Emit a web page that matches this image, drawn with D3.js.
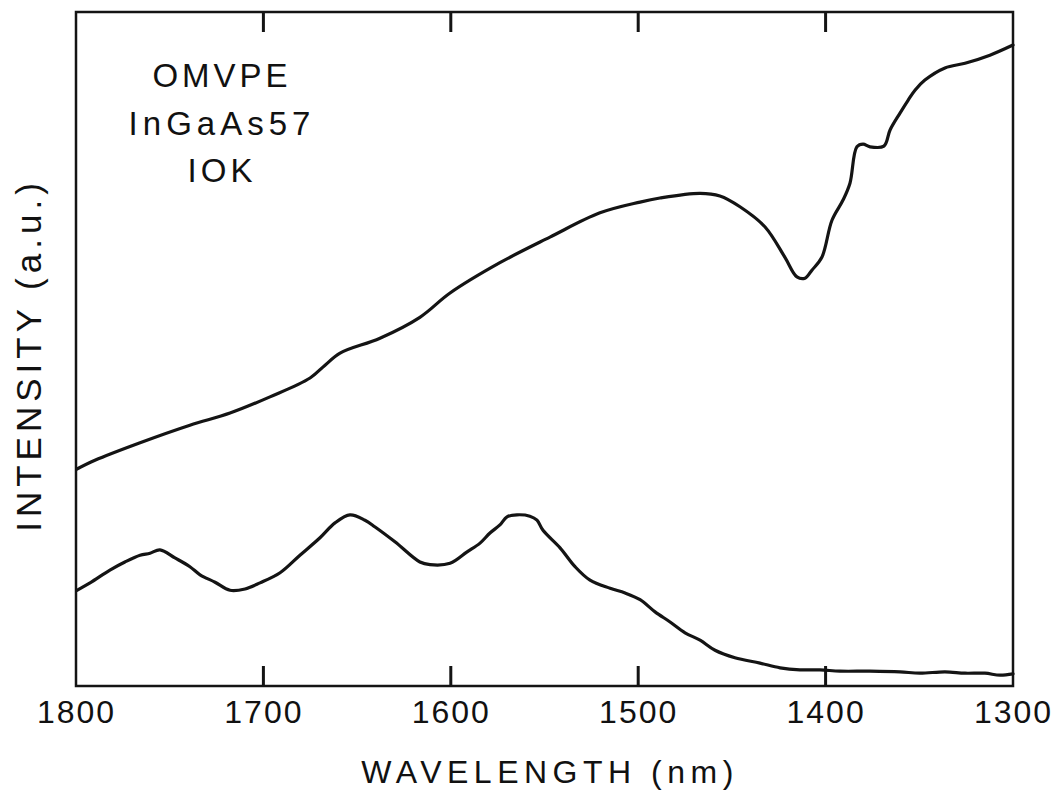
<!DOCTYPE html>
<html>
<head>
<meta charset="utf-8">
<script src="https://cdn.jsdelivr.net/npm/d3@7"></script>
<style>
  html, body { margin: 0; padding: 0; background: #fff; }
  svg text { font-family: "Liberation Sans", "DejaVu Sans", sans-serif; fill: #111; }
</style>
</head>
<body>
<svg id="chart" width="1062" height="792"></svg>
<script>
// ---- data (wavelength in nm, intensity in arbitrary units 0-100) ----
const upperWavelength = [1799.5,1789.9,1765.8,1739.2,1717.8,1696.5,1675.1,1667.1,1659.1,1637.8,1616.5,1600.4,1573.8,1547.1,1520.4,1499.0,1488.4,1467.0,1456.4,1445.7,1432.3,1421.7,1415.3,1411.0,1407.3,1402.0,1396.6,1390.7,1387.0,1383.3,1380.0,1376.3,1368.9,1365.6,1360.3,1356.0,1352.3,1347.0,1336.3,1325.6,1312.3,1300.0];
const upperIntensity  = [32.2,33.5,36.1,38.7,40.5,42.9,45.7,47.6,49.4,51.6,54.7,58.3,62.8,66.6,70.2,71.8,72.4,73.1,72.7,71.1,68.1,63.6,60.7,60.5,61.7,63.6,69.1,72.1,74.6,80.0,80.4,80.0,80.1,82.5,85.0,86.9,88.4,89.9,91.7,92.4,93.6,95.1];

const lowerWavelength = [1799.5,1792.5,1781.9,1773.9,1765.8,1760.5,1755.2,1747.2,1739.2,1733.8,1725.8,1717.8,1709.8,1701.8,1691.1,1680.5,1669.8,1661.8,1653.8,1645.8,1640.4,1629.8,1616.5,1611.1,1600.4,1591.3,1584.4,1579.1,1573.8,1570.0,1564.7,1557.8,1554.0,1550.8,1541.7,1533.7,1525.7,1515.0,1507.0,1499.0,1491.0,1483.0,1475.0,1467.0,1459.0,1448.4,1435.0,1424.3,1413.7,1403.0,1392.3,1376.3,1360.3,1349.7,1336.3,1325.6,1315.0,1306.9,1300.0];
const lowerIntensity  = [14.2,15.3,17.2,18.4,19.4,19.7,20.2,19.0,17.7,16.5,15.4,14.2,14.4,15.3,16.8,19.4,22.0,24.2,25.4,24.6,23.6,21.4,18.4,18.0,18.2,19.9,21.2,22.7,23.9,25.1,25.4,25.2,24.6,23.1,20.5,17.7,15.7,14.5,13.8,12.8,11.0,9.5,7.9,6.8,5.3,4.2,3.4,2.7,2.4,2.4,2.2,2.2,2.1,1.9,2.1,1.9,1.9,1.6,1.8];

const xTickValues = [1800, 1700, 1600, 1500, 1400, 1300];
const innerTickValues = [1700, 1600, 1500, 1400];
const annotationLines = ["OMVPE", "InGaAs57", "IOK"];
const xTitle = "WAVELENGTH (nm)";
const yTitle = "INTENSITY (a.u.)";

// ---- layout ----
const svg = d3.select("#chart");
const mLeft = 76, mRight = 1013, mTop = 12, mBottom = 686;
const tickLen = 20;

const xScale = d3.scaleLinear().domain([1800, 1300]).range([mLeft, mRight]);
const yScale = d3.scaleLinear().domain([0, 100]).range([mBottom, mTop]);

const ink = "#141414";

// frame
svg.append("rect")
  .attr("x", mLeft).attr("y", mTop)
  .attr("width", mRight - mLeft).attr("height", mBottom - mTop)
  .attr("fill", "none").attr("stroke", ink).attr("stroke-width", 2.5);

// bottom axis labels
const bottomAxis = d3.axisBottom(xScale)
  .tickValues(xTickValues)
  .tickSize(0).tickPadding(14)
  .tickFormat(d3.format("d"));
const gb = svg.append("g").attr("transform", `translate(0,${mBottom})`).call(bottomAxis);
gb.select(".domain").remove();
gb.selectAll(".tick line").remove();
gb.selectAll(".tick text")
  .style("font-family", '"Liberation Sans", "DejaVu Sans", sans-serif')
  .style("font-size", "32px").style("letter-spacing", "2px")
  .attr("fill", ink);

// inward ticks on bottom and top edges, as one path
const tp = d3.path();
innerTickValues.forEach(v => {
  const px = xScale(v);
  tp.moveTo(px, mBottom); tp.lineTo(px, mBottom - tickLen);
  tp.moveTo(px, mTop); tp.lineTo(px, mTop + tickLen);
});
svg.append("path")
  .attr("d", tp.toString())
  .attr("fill", "none")
  .style("stroke", ink)
  .style("stroke-width", "3px");

// curves
const lineGen = d3.line().x(d => xScale(d[0])).y(d => yScale(d[1])).curve(d3.curveCatmullRom.alpha(0.5));
const upper = upperWavelength.map((w, i) => [w, upperIntensity[i]]);
const lower = lowerWavelength.map((w, i) => [w, lowerIntensity[i]]);
[upper, lower].forEach(series => {
  svg.append("path").datum(series)
    .attr("d", lineGen)
    .attr("fill", "none").attr("stroke", ink)
    .attr("stroke-width", 3.2).attr("stroke-linejoin", "round").attr("stroke-linecap", "round");
});

// annotation
const ann = svg.append("text").attr("text-anchor", "middle")
  .style("font-size", "33px");
annotationLines.forEach((t, i) => {
  ann.append("tspan").attr("x", 222).attr("y", 87 + i * 47.5)
    .style("letter-spacing", i === 1 ? "5px" : "4px").text(t);
});

// axis titles
svg.append("text").attr("x", 550).attr("y", 783)
  .attr("text-anchor", "middle")
  .style("font-size", "32px").style("letter-spacing", "5.5px")
  .text(xTitle);

svg.append("text")
  .attr("transform", "translate(41,355) rotate(-90)")
  .attr("text-anchor", "middle")
  .style("font-size", "35px").style("letter-spacing", "5px")
  .text(yTitle);
</script>
</body>
</html>
